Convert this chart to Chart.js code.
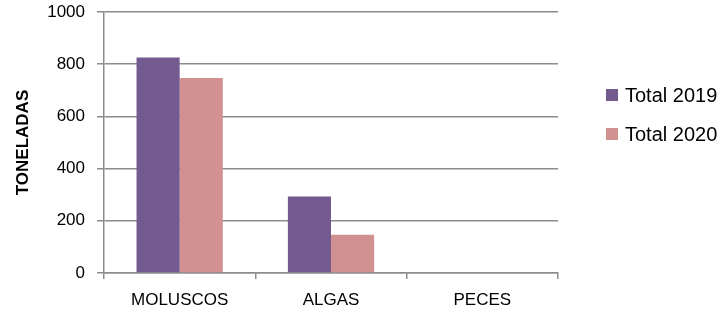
<!DOCTYPE html>
<html><head><meta charset="utf-8">
<script src="https://cdn.jsdelivr.net/npm/chart.js@4/dist/chart.umd.min.js"></script>
<style>html,body{margin:0;padding:0;background:#fff}#wrap{width:723px;height:315px}</style>
</head><body><div id="wrap"><canvas id="c" width="723" height="315"></canvas></div>
<script>
const categories = ["MOLUSCOS", "ALGAS", "PECES"];
const total2019 = [826, 293, 0];
const total2020 = [747, 147, 0];
const seriesNames = ["Total 2019", "Total 2020"];
const yTicks = [0, 200, 400, 600, 800, 1000];
const FONT = "'Liberation Sans', 'DejaVu Sans', sans-serif";

const legendPlugin = {
  id: 'sideLegend',
  afterDraw(chart) {
    const ctx = chart.ctx;
    ctx.save();
    chart.data.datasets.forEach((ds, i) => {
      const y = 95 + i * 39;
      ctx.fillStyle = ds.backgroundColor;
      ctx.fillRect(606, y - 6, 12, 12);
      ctx.fillStyle = '#000';
      ctx.font = "20px " + FONT;
      ctx.textBaseline = 'middle';
      ctx.fillText(ds.label, 625, y + 1);
    });
    ctx.restore();
  }
};

new Chart(document.getElementById('c'), {
  type: 'bar',
  data: {
    labels: categories,
    datasets: [
      { label: seriesNames[0], data: total2019, backgroundColor: '#735A8F', categoryPercentage: 0.57, barPercentage: 1.0 },
      { label: seriesNames[1], data: total2020, backgroundColor: '#D19190', categoryPercentage: 0.57, barPercentage: 1.0 }
    ]
  },
  options: {
    responsive: false,
    animation: false,
    layout: { padding: { left: 0, right: 165, top: 12, bottom: 0 } },
    plugins: { legend: { display: false }, tooltip: { enabled: false } },
    scales: {
      x: {
        grid: { offset: true, drawOnChartArea: false, drawTicks: true, tickLength: 6, color: '#8c8c8c', lineWidth: 1.5 },
        border: { color: '#8c8c8c', width: 1.5 },
        ticks: { color: '#000', font: { family: FONT, size: 17 }, padding: 11 },
        afterFit(s) { s.height = 42; s.paddingLeft = 0; s.paddingRight = 0; }
      },
      y: {
        min: 0, max: 1000,
        afterBuildTicks(s) { s.ticks = yTicks.map(v => ({ value: v })); },
        grid: { color: '#8c8c8c', lineWidth: 1.5, tickLength: 7 },
        border: { color: '#8c8c8c', width: 1.5 },
        ticks: { color: '#000', font: { family: FONT, size: 17 }, padding: 12, callback: v => String(v) },
        title: { display: true, text: 'TONELADAS', color: '#000', font: { family: FONT, size: 17, weight: 'bold' }, padding: { top: 13, bottom: 8 } },
        afterFit(s) { s.width = 104; s.paddingTop = 0; s.paddingBottom = 0; }
      }
    }
  },
  plugins: [legendPlugin]
});
</script></body></html>
